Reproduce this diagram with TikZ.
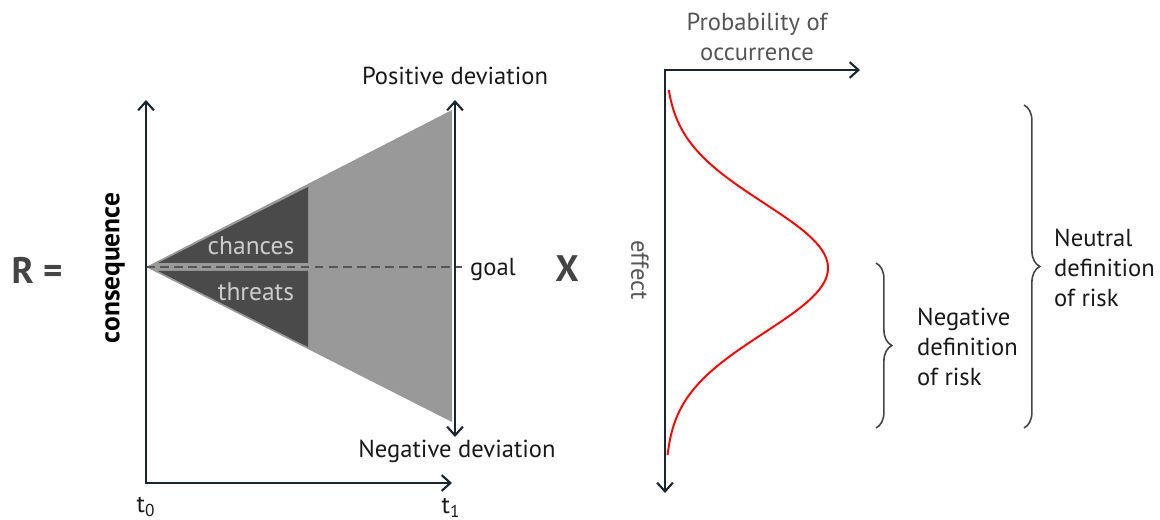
\documentclass[tikz,border=0pt]{standalone}
\usepackage{fontspec}
\setmainfont{PT Sans}
\usetikzlibrary{arrows.meta, positioning, decorations.pathreplacing}
\definecolor{axisblue}{RGB}{27,38,49}
\definecolor{conegray}{RGB}{153,153,153}
\definecolor{wedgegray}{RGB}{74,74,74}
\definecolor{softtext}{RGB}{85,85,85}
\definecolor{bigtext}{RGB}{68,68,68}

\begin{document}
\begin{tikzpicture}[
  x=0.02cm, y=-0.02cm,
  every node/.style={font=\fontsize{14}{17}\selectfont, text=black!90},
  axis/.style={line width=1.2pt, draw=axisblue, {Straight Barb[length=5pt,width=9pt]}-{Straight Barb[length=5pt,width=9pt]}},
  bigsign/.style={font=\fontsize{21}{24}\selectfont\bfseries, text=bigtext},
  wedgelabel/.style={font=\fontsize{14.5}{16}\selectfont, text=black!20},
  curly/.style={decorate, decoration={brace, amplitude=9pt}, draw=bigtext, line width=0.9pt},
]
  \useasboundingbox (0,0) rectangle (1160,520);

  % left part: consequence over time
  \coordinate (O) at (146,483);
  \coordinate (ytop) at (146,100);
  \coordinate (xend) at (452,483);
  \coordinate (apex) at (146,267);
  \coordinate (goalend) at (462,267);
  \coordinate (devtop) at (455,100);
  \coordinate (devbot) at (455,437);

  \fill[conegray] (apex) -- (452,110) -- (452,422) -- cycle;
  \fill[wedgegray] (158,263) -- (308,187) -- (308,263) -- cycle;
  \fill[wedgegray] (158,271) -- (308,271) -- (308,347) -- cycle;
  \draw[softtext, line width=1.2pt, dash pattern=on 5pt off 3pt] (apex) -- (goalend);

  \draw[axis] (ytop) -- (O) -- (xend);
  \draw[axis] (devtop) -- (devbot);

  \node[bigsign] (R) at (37,270) {R =};
  \node[rotate=90, font=\fontsize{15.6}{18}\selectfont\bfseries, text=black] (cons) at (115,268) {consequence};
  \node[wedgelabel] (chances) at (251,246) {chances};
  \node[wedgelabel] (threats) at (256,292) {threats};
  \node (goal) at (493,269) {goal};
  \node (posdev) at (455,76) {Positive deviation};
  \node (negdev) at (457,451) {Negative deviation};
  \node (t0) at (146,507) {t\textsubscript{0}};
  \node (t1) at (451,508) {t\textsubscript{1}};

  \node[bigsign] (X) at (567,269) {X};

  % right part: distribution of the effect
  \coordinate (P) at (665,70);
  \coordinate (pend) at (860,70);
  \coordinate (eend) at (665,493);
  \draw[axis] (pend) -- (P) -- (eend);
  \draw[red, line width=1.1pt] plot[domain=90:455, samples=90, smooth] ({665+163*exp(-((\x-268)/65)^2/2)}, \x);

  \node[align=center, text=softtext] (prob) at (757,37) {Probability of\\occurrence};
  \node[rotate=-90, text=softtext] (effect) at (640,270) {effect};

  \draw[curly] (1024,105) -- (1024,428);
  \draw[curly] (876,263) -- (876,428);
  \node[anchor=west, align=left] (neutral) at (1048,268) {Neutral\\definition\\of risk};
  \node[anchor=west, align=left] (negative) at (911,347) {Negative\\definition\\of risk};
\end{tikzpicture}
\end{document}
